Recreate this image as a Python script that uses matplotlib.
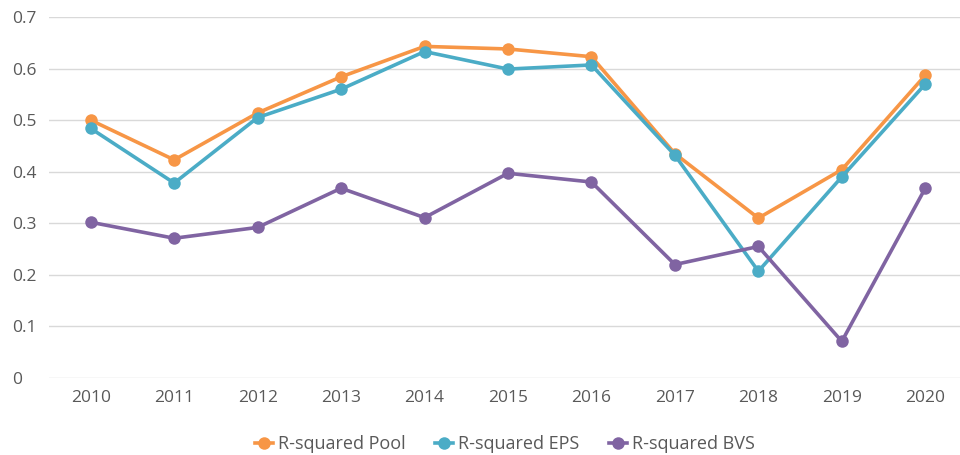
import matplotlib
matplotlib.use("Agg")
import matplotlib.pyplot as plt
from matplotlib.lines import Line2D

years = ["2010", "2011", "2012", "2013", "2014", "2015", "2016", "2017", "2018", "2019", "2020"]
r2_pool = [0.500, 0.423, 0.514, 0.584, 0.643, 0.638, 0.623, 0.435, 0.310, 0.404, 0.587]
r2_eps = [0.484, 0.378, 0.505, 0.560, 0.633, 0.599, 0.607, 0.432, 0.207, 0.390, 0.570]
r2_bvs = [0.302, 0.271, 0.292, 0.368, 0.311, 0.397, 0.380, 0.220, 0.255, 0.071, 0.368]
series_names = ["R-squared Pool", "R-squared EPS", "R-squared BVS"]
colors = ["#F79646", "#4BACC6", "#8064A2"]
y_ticks = [0, 0.1, 0.2, 0.3, 0.4, 0.5, 0.6, 0.7]
y_tick_labels = ["0", "0.1", "0.2", "0.3", "0.4", "0.5", "0.6", "0.7"]

plt.rcParams["font.family"] = ["Open Sans", "DejaVu Sans"]

fig = plt.figure(figsize=(9.6, 4.55), dpi=100)
ax = fig.add_axes([49 / 960, 1 - 378 / 455, (967 - 49) / 960, (378 - 17) / 455])

x = list(range(len(years)))
for vals, name, c in zip([r2_pool, r2_eps, r2_bvs], series_names, colors):
    ax.plot(x, vals, color=c, lw=2.6, marker="o", markersize=9,
            markeredgewidth=0, label=name, zorder=3, solid_joinstyle="round")

ax.set_xlim(-0.5, len(years) - 0.5)
ax.set_ylim(0, 0.7)
ax.set_yticks(y_ticks)
ax.set_yticklabels(y_tick_labels)
ax.set_xticks(x)
ax.set_xticklabels(years)
ax.grid(axis="y", color="#D9D9D9", lw=1.0)
ax.set_axisbelow(True)
for s in ax.spines.values():
    s.set_visible(False)
ax.tick_params(axis="both", length=0, colors="#595959", labelsize=12.5)
ax.tick_params(axis="x", pad=9)
ax.tick_params(axis="y", pad=37 * 0.72)
for lbl in ax.get_yticklabels():
    lbl.set_horizontalalignment("left")

handles = [Line2D([0], [0], color=c, lw=2.6, marker="o", markersize=9,
                  markeredgewidth=0) for c in colors]
fig.legend(handles, series_names, loc="center", bbox_to_anchor=(505 / 960, 1 - 444 / 455),
           ncol=3, frameon=False, fontsize=13, handlelength=1.0, handletextpad=0.3,
           columnspacing=1.6, labelcolor="#595959")

fig.savefig("out.png", dpi=100)
